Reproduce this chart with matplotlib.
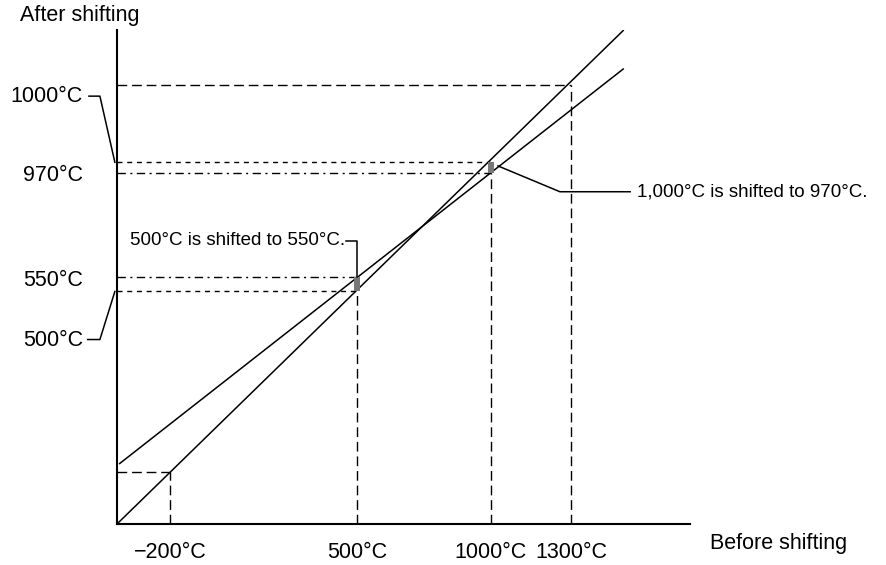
""" Temperature shift diagram """
import matplotlib.pyplot as plt

plt.rcParams['font.family'] = ['Liberation Sans', 'DejaVu Sans']
plt.rcParams['lines.scale_dashes'] = False

# before shifting axis ticks
x_ticks = [-200, 500, 1000, 1300]
x_tick_labels = ['\u2212200°C', '500°C', '1000°C', '1300°C']

# unshifted (reference) line and shifted line, end points
ref_x = [-400, 1495]
ref_y = [-400, 1510]
shift_x = [-390, 1495]
shift_y = [-166, 1361]

# shifted points: before -> after
before = [500, 1000]
after = [555, 960]

# after shifting labels
y_labels = ['1000°C', '970°C', '550°C', '500°C']

LONG = (0, (7, 3.5))
SHORT = (0, (3.6, 3.4))
DASHDOT = (0, (6, 3.2, 1.5, 3.2))

fig = plt.figure(figsize=(8.87, 5.65), dpi=100)
ax = fig.add_axes([117 / 887, 41 / 565, 573 / 887, 494 / 565])
ax.set_xlim(-400, 1745)
ax.set_ylim(-400, 1512)

for side in ['top', 'right']:
    ax.spines[side].set_visible(False)
for side in ['left', 'bottom']:
    ax.spines[side].set_linewidth(1.5)
ax.set_yticks([])
ax.set_xticks(x_ticks, x_tick_labels, fontsize=15.5)
ax.tick_params(axis='x', length=0, pad=13)

# main lines
ax.plot(ref_x, ref_y, color='black', lw=1.1)
ax.plot(shift_x, shift_y, color='black', lw=1.1)

# -200 and 1300 guides
for v in [x_ticks[0], x_ticks[3]]:
    ax.plot([v, v], [-400, v], color='black', lw=1, linestyle=LONG)
    ax.plot([-400, v], [v, v], color='black', lw=1, linestyle=LONG)

# shifted point guides
for b, a in zip(before, after):
    ax.plot([b, b], [-400, min(a, b)], color='black', lw=1, linestyle=LONG)
    ax.plot([-400, b], [b, b], color='black', lw=1, linestyle=SHORT)
    ax.plot([-400, b], [a, a], color='black', lw=1, linestyle=DASHDOT)
    ax.plot([b, b], [b, a], color='#777777', lw=4.3, solid_capstyle='butt')

# y labels with leaders
ax.text(-528, 1256, y_labels[0], ha='right', va='center', fontsize=15.5)
ax.text(-528, 947, y_labels[1], ha='right', va='center', fontsize=15.5)
ax.text(-528, 542, y_labels[2], ha='right', va='center', fontsize=15.5)
ax.text(-528, 310, y_labels[3], ha='right', va='center', fontsize=15.5)
ax.plot([-505, -464, -408], [1256, 1256, before[1]], color='black', lw=1.1,
        clip_on=False)
ax.plot([-510, -464, -408], [314, 314, before[0]], color='black', lw=1.1,
        clip_on=False)

# callouts
ax.text(455, 697, '500°C is shifted to 550°C.', ha='right', va='center',
        fontsize=13.5)
ax.plot([458, before[0], before[0]], [697, 697, after[0]], color='black', lw=1.1)
ax.text(1547, 886, '1,000°C is shifted to 970°C.', ha='left', va='center',
        fontsize=13.5)
ax.plot([1026, 1258, 1521], [986, 886, 886], color='black', lw=1.1,
        clip_on=False)

fig.text(20 / 887, 1 - 16 / 565, 'After shifting', ha='left', va='center',
         fontsize=15.5)
fig.text(710 / 887, 1 - 543 / 565, 'Before shifting', ha='left', va='center',
         fontsize=15.5)

fig.savefig('out.png', dpi=100)
